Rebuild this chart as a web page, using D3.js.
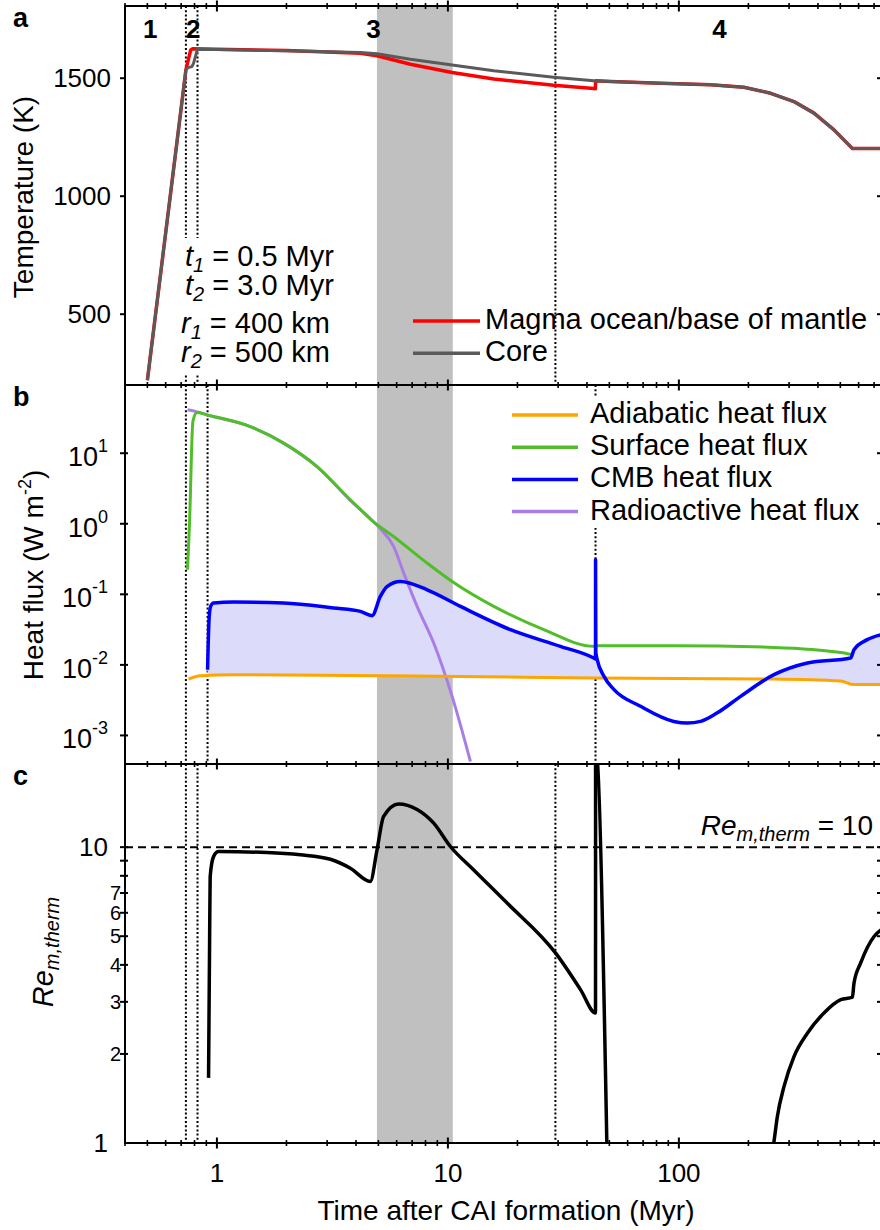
<!DOCTYPE html>
<html>
<head>
<meta charset="utf-8">
<script src="https://cdnjs.cloudflare.com/ajax/libs/d3/7.8.5/d3.min.js"></script>
<style>
  body { margin: 0; background: #fff; }
  text { font-family: "Liberation Sans", Arial, Helvetica, sans-serif; }
</style>
</head>
<body>
<div id="chart"></div>
<script>
// ---- DATA (time after CAI formation in Myr) ----
var coreTemp = [[0.5, 220], [0.734, 1535], [0.75, 1545], [0.779, 1549], [0.792, 1563], [0.824, 1623],
  [1.0, 1622], [2.0, 1616], [4.18, 1609], [4.93, 1604], [6.88, 1580], [10.43, 1556], [15.8, 1532],
  [28.7, 1504], [42.8, 1489], [50.6, 1486], [83.4, 1479], [137.2, 1472], [191.2, 1462], [249.7, 1436],
  [315, 1401], [384.6, 1352], [469.5, 1281], [564, 1202], [750, 1202]];

var magmaTemp = [[0.5, 220], [0.734, 1535], [0.77, 1620], [0.785, 1625], [1.0, 1623], [2.0, 1617],
  [4.18, 1606], [4.93, 1595], [6.88, 1559], [10.43, 1524], [15.8, 1497], [28.7, 1470], [42.8, 1456],
  [43.5, 1455], [43.6, 1489], [50.6, 1486], [83.4, 1479], [137.2, 1472], [191.2, 1462], [249.7, 1436],
  [315, 1401], [384.6, 1352], [469.5, 1281], [564, 1202], [750, 1202]];

var adiabaticFlux = [[0.753, 0.0063], [0.846, 0.00703], [1.18, 0.00726], [11.33, 0.00687],
  [43.56, 0.00652], [258, 0.0063], [502, 0.0059], [573, 0.00525], [750, 0.00525]];

var surfaceFlux = [[0.746, 0.223], [0.761, 1.02], [0.787, 28.1], [0.819, 37.8], [0.905, 35.0],
  [1.394, 23.9], [1.944, 13.9], [2.713, 6.46], [3.781, 2.19], [4.18, 1.6], [4.695, 1.11],
  [5.82, 0.661], [8.13, 0.277], [10.43, 0.152], [15.8, 0.0675], [26.0, 0.0316], [42.8, 0.0183],
  [43.56, 0.0187], [94.8, 0.0187], [258, 0.0177], [502, 0.015], [564, 0.014]];

var cmbFlux = [[0.911, 0.00855], [0.925, 0.045], [0.94, 0.068], [0.967, 0.0753], [1.18, 0.0778],
  [1.944, 0.0753], [3.201, 0.064], [4.18, 0.0573], [4.695, 0.0498], [5.1, 0.0933], [5.45, 0.129],
  [6.225, 0.152], [8.13, 0.116], [11.33, 0.0675], [18.66, 0.0316], [30.7, 0.0183], [42.8, 0.0125],
  [43.56, 0.0121], [43.58, 0.309], [43.7, 0.015], [44.3, 0.0119], [47.4, 0.00687], [52.4, 0.00446],
  [68.2, 0.00259], [95, 0.00158], [108.7, 0.0015], [124.2, 0.00158], [146.7, 0.00209],
  [185, 0.00358], [258, 0.00726], [360, 0.01064], [554, 0.0125], [573, 0.0164], [654, 0.0228],
  [750, 0.0268]];

var radioFlux = [[0.746, 41.2], [0.8, 39.5], [0.846, 37.6], [0.905, 35.0], [1.394, 23.9],
  [1.944, 13.9], [2.713, 6.46], [3.781, 2.15], [4.18, 1.58], [4.695, 1.12], [5.1, 0.85],
  [5.82, 0.479], [6.44, 0.2], [7.355, 0.0676], [8.68, 0.0204], [10.43, 0.00358], [12.52, 0.000427]];

var reEarly = [[0.92, 1.66], [0.93, 5.0], [0.935, 7.95], [0.967, 9.29], [1.016, 9.66], [1.647, 9.59],
  [2.296, 9.42], [3.097, 9.1], [3.781, 8.49], [4.615, 7.66], [4.934, 9.79], [5.27, 12.7], [6.12, 14.0],
  [7.355, 13.4], [8.68, 12.05], [10.25, 10.05], [12.94, 8.37], [18.05, 6.47], [29.23, 4.39],
  [37.51, 3.3], [43.56, 2.75], [43.6, 22], [48.8, 0.97]];

var reLate = [[256, 0.97], [258, 1.01], [266.9, 1.23], [285.1, 1.55], [315, 1.96], [360, 2.35],
  [424.8, 2.75], [502, 3.05], [564, 3.11], [573, 3.47], [612.6, 4.06], [699.8, 4.99], [750, 5.25]];

var reCritical = 10;

var xMajorTicks = [1, 10, 100];
var xMinorTicks = [0.4, 0.5, 0.6, 0.7, 0.8, 0.9, 2, 3, 4, 5, 6, 7, 8, 9,
  20, 30, 40, 50, 60, 70, 80, 90, 200, 300, 400, 500, 600, 700];
var tempTicks = [500, 1000, 1500];
var fluxExponents = [-3, -2, -1, 0, 1];
var reTicks = [1, 2, 3, 4, 5, 6, 7, 10];
var reSmallTicks = [2, 3, 4, 5, 6, 7];
var reUnlabelled = [8, 9];

var stageNames = ["1", "2", "3", "4"];
var stageTimes = [0.514, 0.789, 4.76, 150];
var shadeBand = [4.93, 10.5];
var dottedA = [0.734, 0.824, 29.2];
var dottedB = [0.734, 0.911, 43.56];
var dottedC = [0.734, 0.824, 29.2];

var legendA = ["Magma ocean/base of mantle", "Core"];
var legendB = ["Adiabatic heat flux", "Surface heat flux", "CMB heat flux", "Radioactive heat flux"];

// ---- LAYOUT ----
var svgWidth = 880, svgHeight = 1230;
var left = 125, right = 881;
var topA = 6, topB = 385, topC = 764, bottom = 1143;

var colors = {
  magma: "#ff0000", core: "#5a5a5a", adiabatic: "#ffa500", surface: "#50be28",
  cmb: "#0000ff", radio: "#aa7de6", fill: "#dcdcfa", band: "#c0c0c0"
};

var svg = d3.select("#chart").append("svg")
  .attr("width", svgWidth)
  .attr("height", svgHeight);

var x = d3.scaleLog().domain([0.4, 750]).range([left, right]);
var yA = d3.scaleLinear().domain([200, 1806]).range([topB, topA]);
var yB = d3.scaleLog().domain([3.936e-4, 92.68]).range([topC, topB]);
var yC = d3.scaleLog().domain([1, 19.1]).range([bottom, topC]);

var defs = svg.append("defs");
[["clipA", topA, topB], ["clipB", topB, topC], ["clipC", topC, bottom]].forEach(function(c) {
  defs.append("clipPath").attr("id", c[0]).append("rect")
    .attr("x", left).attr("y", c[1]).attr("width", right - left).attr("height", c[2] - c[1]);
});

// grey band through all panels
svg.append("rect")
  .attr("x", x(shadeBand[0]))
  .attr("y", topA)
  .attr("width", x(shadeBand[1]) - x(shadeBand[0]))
  .attr("height", bottom - topA)
  .attr("fill", colors.band);

function dotted(times, y0, y1) {
  svg.append("g").selectAll("line").data(times).enter().append("line")
    .attr("x1", d => x(d)).attr("x2", d => x(d))
    .attr("y1", y0).attr("y2", y1)
    .attr("stroke", "#000")
    .attr("stroke-width", 2)
    .attr("stroke-dasharray", "2,2.2");
}
dotted(dottedA, topA, topB);
dotted(dottedB, topB, topC);
dotted(dottedC, topC, bottom);

function drawCurve(g, data, yScale, color, width, curve) {
  var line = d3.line().curve(curve || d3.curveMonotoneX)
    .x(d => x(d[0])).y(d => yScale(d[1]));
  g.append("path")
    .datum(data)
    .attr("d", line)
    .attr("fill", "none")
    .attr("stroke", color)
    .attr("stroke-width", width)
    .attr("stroke-linejoin", "round");
}

// ---- PANEL A ----
var gA = svg.append("g").attr("clip-path", "url(#clipA)");
drawCurve(gA, magmaTemp, yA, colors.magma, 3.5, d3.curveLinear);
drawCurve(gA, coreTemp, yA, colors.core, 3, d3.curveLinear);

// parameter box
svg.append("rect").attr("x", 178).attr("y", 238).attr("width", 165).attr("height", 136).attr("fill", "#fff");
var params = [["t", "1", " = 0.5 Myr", 185, 266], ["t", "2", " = 3.0 Myr", 185, 295],
  ["r", "1", " = 400 km", 181, 333], ["r", "2", " = 500 km", 181, 362]];
params.forEach(function(p) {
  var t = svg.append("text").attr("x", p[3]).attr("y", p[4]).attr("font-size", 29);
  t.append("tspan").attr("font-style", "italic").text(p[0]);
  t.append("tspan").attr("font-style", "italic").attr("font-size", 20).attr("dy", 6).text(p[1]);
  t.append("tspan").attr("dy", -6).text(p[2]);
});

// legend a
var legA = svg.append("g");
[colors.magma, colors.core].forEach(function(c, i) {
  var yy = 321 + i * 32.3;
  legA.append("line").attr("x1", 413).attr("x2", 480).attr("y1", yy).attr("y2", yy)
    .attr("stroke", c).attr("stroke-width", 3.5);
  legA.append("text").attr("x", 485).attr("y", yy + 8).attr("font-size", 29).text(legendA[i]);
});

// stage numbers
svg.append("g").selectAll("text").data(stageNames).enter().append("text")
  .attr("x", (d, i) => x(stageTimes[i]))
  .attr("y", 38)
  .attr("text-anchor", "middle")
  .attr("font-size", 26)
  .attr("font-weight", "bold")
  .text(d => d);

// ---- PANEL B ----
var gB = svg.append("g").attr("clip-path", "url(#clipB)");

// fill between CMB and adiabatic where CMB is larger
defs.append("clipPath").attr("id", "belowAdiabat").append("path")
  .datum(adiabaticFlux)
  .attr("d", d3.area().curve(d3.curveMonotoneX).x(d => x(d[0])).y0(topB).y1(d => yB(d[1])));
gB.append("g").attr("clip-path", "url(#belowAdiabat)")
  .append("path")
  .datum(cmbFlux)
  .attr("d", d3.area().curve(d3.curveMonotoneX).x(d => x(d[0])).y0(topC).y1(d => yB(d[1])))
  .attr("fill", colors.fill);

drawCurve(gB, radioFlux, yB, colors.radio, 3);
drawCurve(gB, adiabaticFlux, yB, colors.adiabatic, 3);
drawCurve(gB, surfaceFlux, yB, colors.surface, 3);
drawCurve(gB, cmbFlux, yB, colors.cmb, 3.5);

// legend b
svg.append("rect").attr("x", 505).attr("y", 396).attr("width", 368).attr("height", 132).attr("fill", "#fff");
var legB = svg.append("g");
[colors.adiabatic, colors.surface, colors.cmb, colors.radio].forEach(function(c, i) {
  var yy = 415 + i * 32.2;
  legB.append("line").attr("x1", 512).attr("x2", 578).attr("y1", yy).attr("y2", yy)
    .attr("stroke", c).attr("stroke-width", 3.5);
  legB.append("text").attr("x", 590).attr("y", yy + 8).attr("font-size", 29).text(legendB[i]);
});

// ---- PANEL C ----
var gC = svg.append("g").attr("clip-path", "url(#clipC)");
gC.append("line")
  .attr("x1", left).attr("x2", right)
  .attr("y1", yC(reCritical)).attr("y2", yC(reCritical))
  .attr("stroke", "#000").attr("stroke-width", 2).attr("stroke-dasharray", "8,5");
drawCurve(gC, reEarly, yC, "#000", 3.5);
drawCurve(gC, reLate, yC, "#000", 3.5);

var reLab = svg.append("text").attr("x", 873).attr("y", yC(reCritical) - 12)
  .attr("text-anchor", "end").attr("font-size", 28);
reLab.append("tspan").attr("font-style", "italic").text("Re");
reLab.append("tspan").attr("font-style", "italic").attr("font-size", 20).attr("dy", 6).text("m,therm");
reLab.append("tspan").attr("dy", -6).text(" = 10");

// ---- AXES / FRAME ----
var frame = svg.append("g").attr("stroke", "#000");
frame.append("line").attr("x1", left).attr("x2", left).attr("y1", topA - 1).attr("y2", bottom + 1).attr("stroke-width", 2);
frame.append("line").attr("x1", right).attr("x2", right).attr("y1", topA).attr("y2", bottom).attr("stroke-width", 2);
[topA, topB, topC, bottom].forEach(function(yPos) {
  frame.append("line").attr("x1", left - 1).attr("x2", right).attr("y1", yPos).attr("y2", yPos).attr("stroke-width", 2);
  frame.selectAll(null).data(xMinorTicks).enter().append("line")
    .attr("x1", d => x(d)).attr("x2", d => x(d))
    .attr("y1", yPos - 3).attr("y2", yPos + 3).attr("stroke-width", 1.6);
  frame.selectAll(null).data(xMajorTicks).enter().append("line")
    .attr("x1", d => x(d)).attr("x2", d => x(d))
    .attr("y1", yPos - 5.5).attr("y2", yPos + 5.5).attr("stroke-width", 2);
});

function yTicks(vals, yScale, len) {
  frame.selectAll(null).data(vals).enter().append("line")
    .attr("x1", left - 5).attr("x2", left + len)
    .attr("y1", d => yScale(d)).attr("y2", d => yScale(d)).attr("stroke-width", 2);
  frame.selectAll(null).data(vals).enter().append("line")
    .attr("x1", right - 4).attr("x2", right)
    .attr("y1", d => yScale(d)).attr("y2", d => yScale(d)).attr("stroke-width", 2);
}
yTicks(tempTicks, yA, 0);
yTicks(fluxExponents.map(e => Math.pow(10, e)), yB, 3);
yTicks(reTicks.concat(reUnlabelled).filter(d => d > 1), yC, 3);

var labels = svg.append("g");

// x tick labels
labels.selectAll(null).data(xMajorTicks).enter().append("text")
  .attr("x", d => x(d)).attr("y", 1182)
  .attr("text-anchor", "middle").attr("font-size", 26)
  .text(d => d);

// panel a tick labels
labels.selectAll(null).data(tempTicks).enter().append("text")
  .attr("x", 111).attr("y", d => yA(d) + 9)
  .attr("text-anchor", "end").attr("font-size", 26)
  .text(d => d);

// panel b tick labels (powers of ten)
fluxExponents.forEach(function(e) {
  var t = labels.append("text").attr("x", 108).attr("y", yB(Math.pow(10, e)) + 13)
    .attr("text-anchor", "end").attr("font-size", 27);
  t.append("tspan").text("10");
  t.append("tspan").attr("font-size", 18).attr("dy", -14).text(e < 0 ? "-" + (-e) : e);
});

// panel c tick labels
labels.selectAll(null).data(reTicks.filter(d => reSmallTicks.indexOf(d) < 0)).enter().append("text")
  .attr("x", 108).attr("y", d => yC(d) + 9)
  .attr("text-anchor", "end").attr("font-size", 26)
  .text(d => d);
labels.selectAll(null).data(reSmallTicks).enter().append("text")
  .attr("x", 121).attr("y", d => yC(d) + 7)
  .attr("text-anchor", "end").attr("font-size", 20)
  .text(d => d);

// axis titles
labels.append("text")
  .attr("transform", "translate(33,197) rotate(-90)")
  .attr("text-anchor", "middle").attr("font-size", 28)
  .text("Temperature (K)");

var hf = labels.append("text")
  .attr("transform", "translate(43,575) rotate(-90)")
  .attr("text-anchor", "middle").attr("font-size", 28);
hf.append("tspan").text("Heat flux (W m");
hf.append("tspan").attr("font-size", 18).attr("dy", -12).text("-2");
hf.append("tspan").attr("dy", 12).text(")");

var rt = labels.append("text")
  .attr("transform", "translate(53,952) rotate(-90)")
  .attr("text-anchor", "middle").attr("font-size", 29);
rt.append("tspan").attr("font-style", "italic").text("Re");
rt.append("tspan").attr("font-style", "italic").attr("font-size", 20).attr("dy", 6).text("m,therm");

labels.append("text")
  .attr("x", 506).attr("y", 1220)
  .attr("text-anchor", "middle").attr("font-size", 28)
  .text("Time after CAI formation (Myr)");

// panel letters
[["a", 27], ["b", 406], ["c", 785]].forEach(function(p) {
  labels.append("text").attr("x", 13).attr("y", p[1])
    .attr("font-size", 27).attr("font-weight", "bold").text(p[0]);
});
</script>
</body>
</html>
